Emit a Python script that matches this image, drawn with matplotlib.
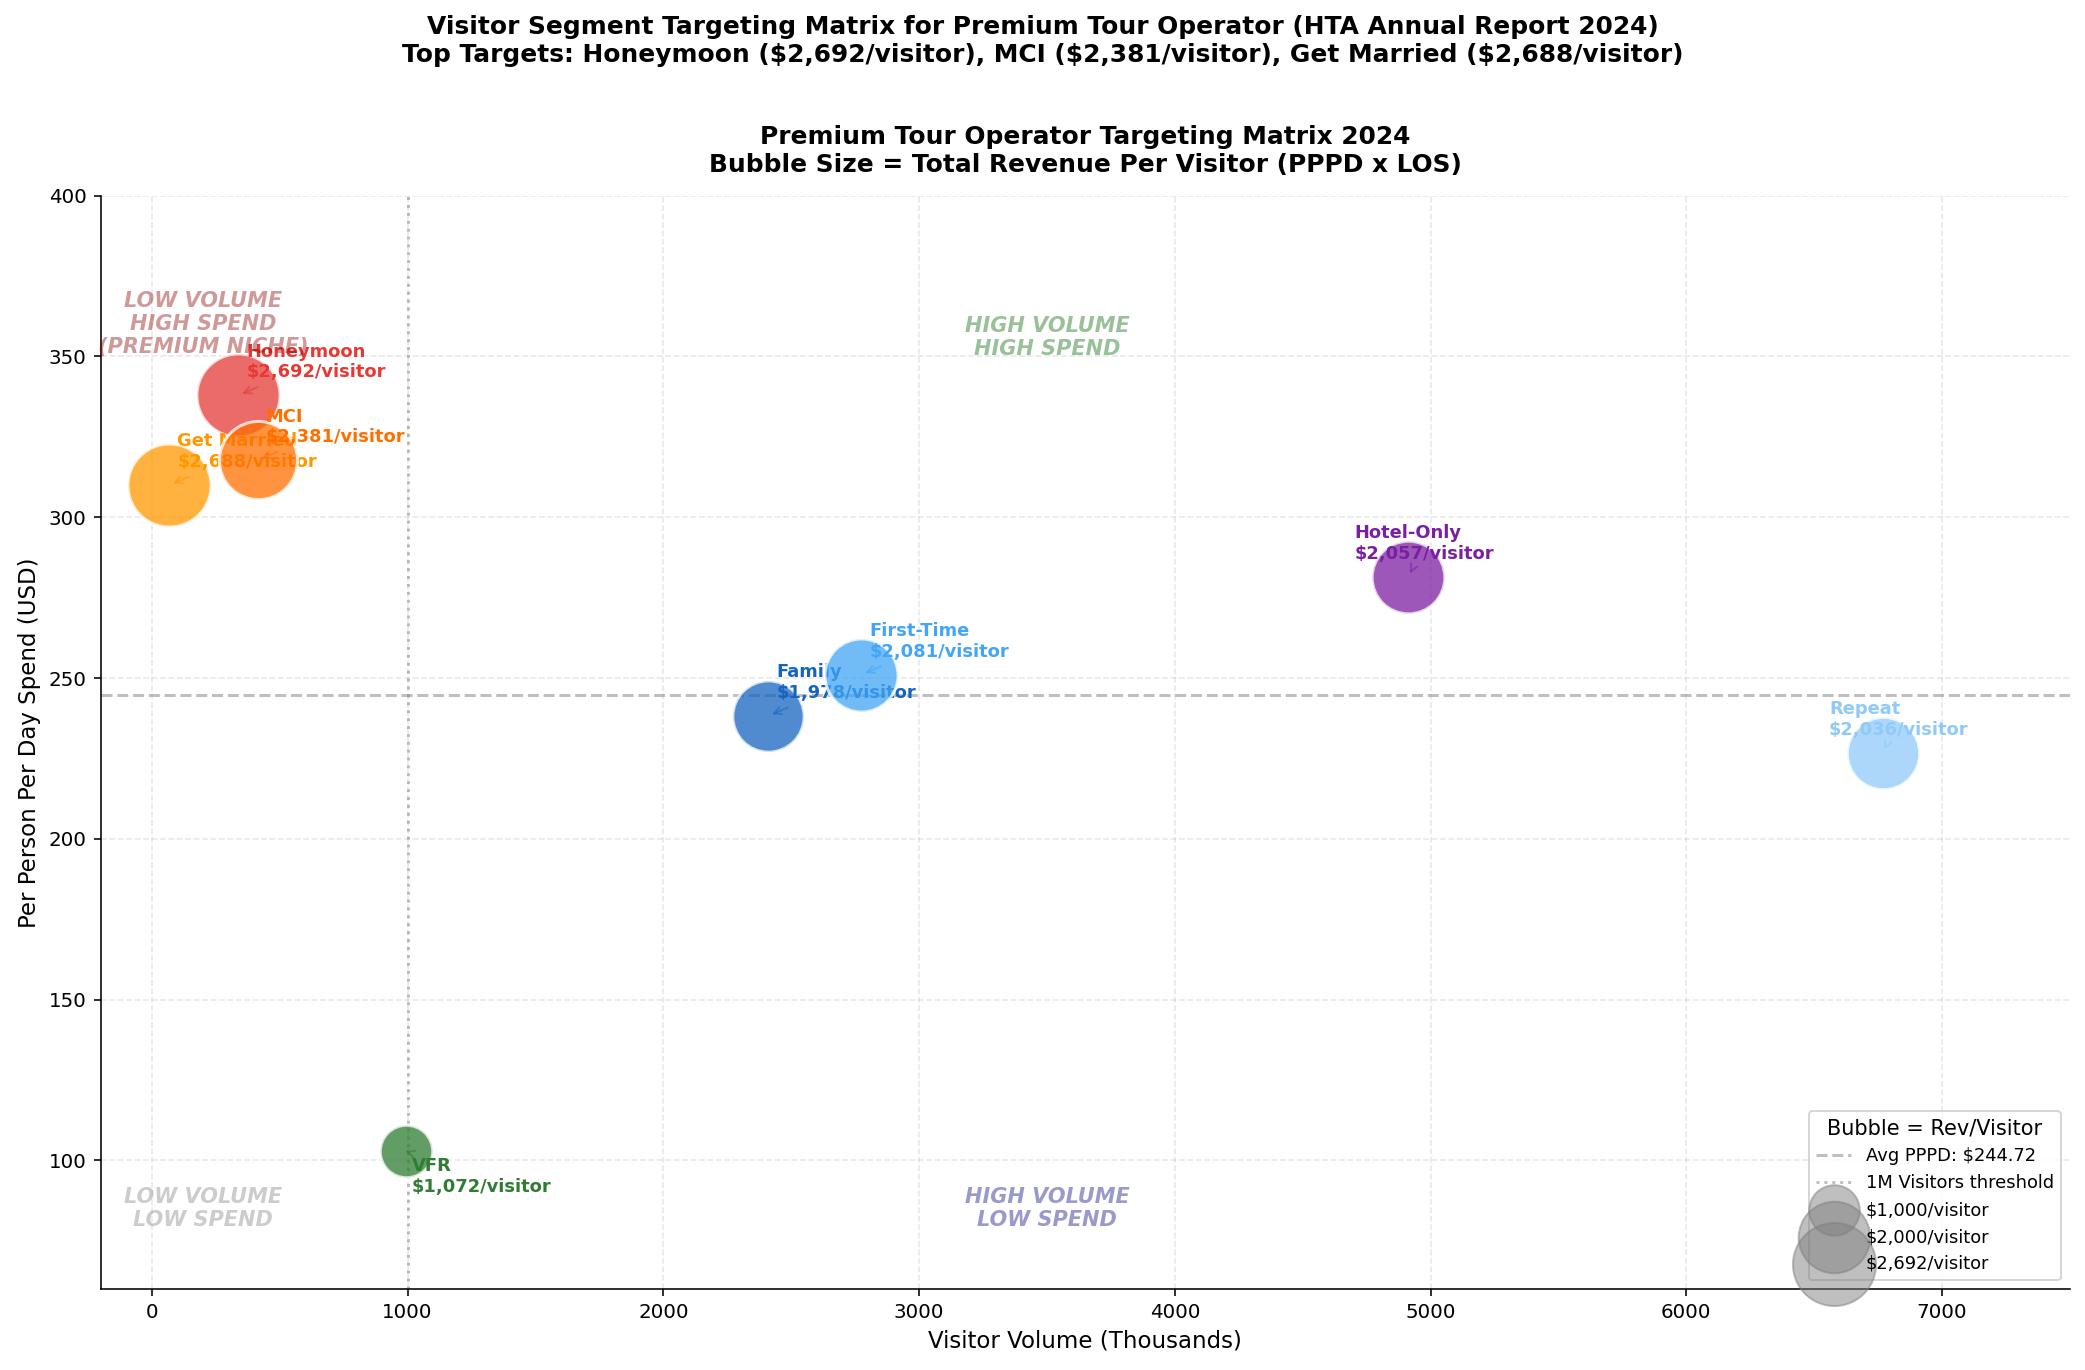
import matplotlib
matplotlib.use("Agg")
import matplotlib.pyplot as plt

# ---- data ----
segments = ["Honeymoon", "Get Married", "MCI", "Family", "First-Time", "Hotel-Only", "Repeat", "VFR"]
visitors_k = [338, 68, 414, 2410, 2774, 4913, 6767, 992]
pppd = [337.9, 310.0, 317.7, 238.2, 251.0, 281.4, 226.7, 102.9]
rev_per_visitor = [2692, 2688, 2381, 1978, 2081, 2057, 2036, 1072]
colors = ["#E53935", "#FF9800", "#FF6F00", "#1565C0", "#42A5F5", "#7B1FA2", "#90CAF9", "#2E7D32"]
avg_pppd = 244.72
visitor_threshold = 1000
legend_sizes = [1000, 2000, 2692]

# label offsets (points) and alignment
offsets = {
    "Honeymoon": (4, 7, "bottom"),
    "Get Married": (4, 7, "bottom"),
    "MCI": (4, 7, "bottom"),
    "Family": (4, 7, "bottom"),
    "First-Time": (4, 7, "bottom"),
    "Hotel-Only": (-27, 7, "bottom"),
    "Repeat": (-27, 7, "bottom"),
    "VFR": (3, -3, "top"),
}

DPI = 143
fig = plt.figure(figsize=(2085 / DPI, 1370 / DPI), dpi=DPI)
ax = fig.add_axes([0.0483, 0.0591, 0.9928 - 0.0483, 0.8572 - 0.0591])

K = 0.65
for name, x, y, r, c in zip(segments, visitors_k, pppd, rev_per_visitor, colors):
    ax.scatter([x], [y], s=r * K, color=c, alpha=0.75, edgecolors="white",
               linewidths=1.5, zorder=3)
    dx, dy, va = offsets[name]
    ax.annotate(f"{name}\n${r:,}/visitor", xy=(x, y), xytext=(dx, dy),
                textcoords="offset points", ha="left", va=va,
                fontsize=9, fontweight="bold", color=c, zorder=3,
                arrowprops=dict(arrowstyle="->", color=c, alpha=0.5, lw=1))

hl = ax.axhline(avg_pppd, color="gray", linestyle="--", alpha=0.5, lw=1.5,
                label=f"Avg PPPD: ${avg_pppd:.2f}", zorder=2)
vl = ax.axvline(visitor_threshold, color="gray", linestyle=":", alpha=0.5, lw=1.5,
                label="1M Visitors threshold", zorder=2)

qkw = dict(fontsize=10.5, fontweight="bold", fontstyle="italic", ha="center",
           va="center", alpha=0.4)
ax.text(200, 360, "LOW VOLUME\nHIGH SPEND\n(PREMIUM NICHE)", color="darkred", **qkw)
ax.text(3500, 356, "HIGH VOLUME\nHIGH SPEND", color="darkgreen", **qkw)
ax.text(200, 85, "LOW VOLUME\nLOW SPEND", color="gray", **qkw)
ax.text(3500, 85, "HIGH VOLUME\nLOW SPEND", color="navy", **qkw)

handles = [hl, vl]
for s in legend_sizes:
    h = ax.scatter([], [], s=s * K, color="gray", alpha=0.5, label=f"${s:,}/visitor")
    handles.append(h)
leg = ax.legend(handles=handles, loc="lower right", fontsize=9,
                title="Bubble = Rev/Visitor", title_fontsize=10.5, scatterpoints=1)

ax.set_xlim(-200, 7500)
ax.set_ylim(60, 400)
ax.grid(True, alpha=0.3, linestyle="--")
ax.spines["top"].set_visible(False)
ax.spines["right"].set_visible(False)
ax.set_xlabel("Visitor Volume (Thousands)", fontsize=11.5)
ax.set_ylabel("Per Person Per Day Spend (USD)", fontsize=11.5)
ax.set_title("Premium Tour Operator Targeting Matrix 2024\n"
             "Bubble Size = Total Revenue Per Visitor (PPPD x LOS)",
             fontsize=12.5, fontweight="bold", pad=12)
fig.suptitle("Visitor Segment Targeting Matrix for Premium Tour Operator (HTA Annual Report 2024)\n"
             "Top Targets: Honeymoon ($2,692/visitor), MCI ($2,381/visitor), Get Married ($2,688/visitor)",
             fontsize=12.5, fontweight="bold", y=0.989, va="top")

fig.savefig("out.png", dpi=DPI)
